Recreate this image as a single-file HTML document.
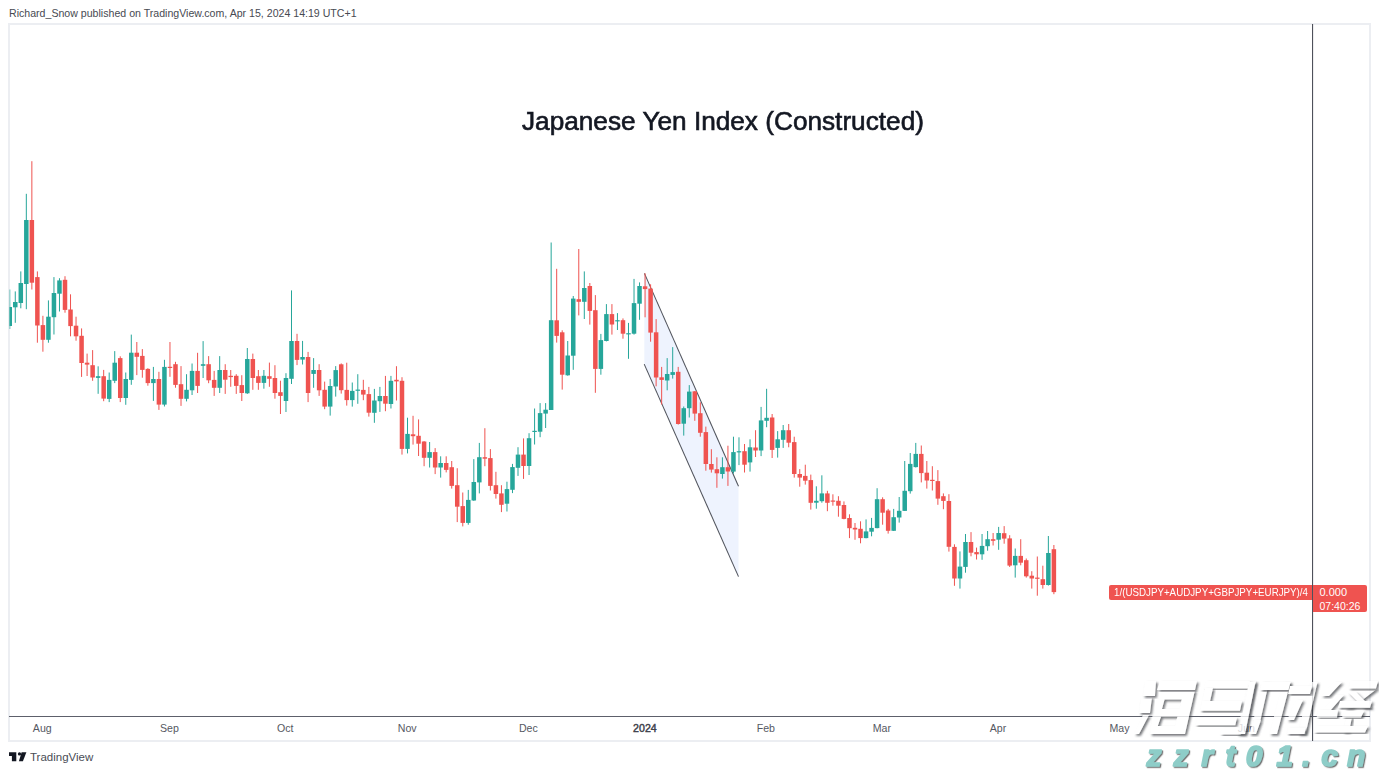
<!DOCTYPE html>
<html><head><meta charset="utf-8"><style>
html,body{margin:0;padding:0;background:#fff;}
body{width:1379px;height:773px;position:relative;overflow:hidden;font-family:"Liberation Sans",sans-serif;}
.top{position:absolute;left:9px;top:7px;font-size:10.6px;color:#474a52;white-space:nowrap;}
.frame{position:absolute;left:8px;top:23px;width:1359px;height:715px;border:2px solid #eceef2;}
svg{position:absolute;left:0;top:0;}
.title{position:absolute;left:522px;top:106.8px;font-size:25.2px;color:#131722;white-space:nowrap;transform-origin:0 0;transform:scaleX(1.04);-webkit-text-stroke:0.6px #131722;}
.tl{position:absolute;top:722px;width:60px;text-align:center;font-size:10.6px;color:#555862;}
.tl.b{color:#3e414b;-webkit-text-stroke:0.45px #3e414b;}
.lbl{position:absolute;left:1108.5px;top:584.5px;width:203px;height:15px;background:#ef5350;border-radius:2px 0 0 2px;}
.lbl span{position:absolute;left:5px;top:1.5px;font-size:10.5px;color:#fff;white-space:nowrap;transform-origin:0 0;transform:scaleX(0.93);}
.tag{position:absolute;left:1312.5px;top:584.5px;width:54px;height:27.5px;background:#ef5350;border-radius:0 2px 2px 0;}
.tag .p{position:absolute;left:7px;top:1.5px;font-size:11px;color:#fff;}
.tag .t{position:absolute;left:7px;top:15px;font-size:10.5px;color:#fff;}
.logo{position:absolute;left:9.2px;top:751.8px;}
.tv{position:absolute;left:30px;top:751px;font-size:11.5px;color:#4a4d56;}
</style></head><body>
<div class="top">Richard_Snow published on TradingView.com, Apr 15, 2024 14:19 UTC+1</div>
<div class="frame"></div>
<svg width="1379" height="773" viewBox="0 0 1379 773">
<defs><clipPath id="clip"><rect x="9.5" y="24" width="1302" height="692"/></clipPath></defs>
<polygon points="644.3,273.4 738.5,486.2 738.5,576.6 644.3,364.1" fill="#eef3fe"/>
<line x1="644.4" y1="273.4" x2="738.5" y2="486.2" stroke="#50535c" stroke-width="1.05"/>
<line x1="644.2" y1="364.1" x2="738.5" y2="576.6" stroke="#50535c" stroke-width="1.05"/>
<g clip-path="url(#clip)"><rect x="9.25" y="289.5" width="1" height="39.5" fill="#26a69a"/><rect x="14.77" y="291.4" width="1" height="31.4" fill="#26a69a"/><rect x="20.30" y="271.4" width="1" height="36.9" fill="#26a69a"/><rect x="25.82" y="193.8" width="1" height="115.4" fill="#26a69a"/><rect x="31.35" y="161.2" width="1" height="128.3" fill="#ef5350"/><rect x="36.87" y="271.4" width="1" height="71.3" fill="#ef5350"/><rect x="42.40" y="315.8" width="1" height="35.9" fill="#ef5350"/><rect x="47.92" y="300.4" width="1" height="42.3" fill="#26a69a"/><rect x="53.45" y="277.1" width="1" height="57.4" fill="#26a69a"/><rect x="58.97" y="278.2" width="1" height="33.3" fill="#26a69a"/><rect x="64.50" y="276.2" width="1" height="36.5" fill="#ef5350"/><rect x="70.02" y="294.3" width="1" height="42.0" fill="#ef5350"/><rect x="75.54" y="316.7" width="1" height="24.0" fill="#ef5350"/><rect x="81.07" y="328.4" width="1" height="48.5" fill="#ef5350"/><rect x="86.59" y="353.6" width="1" height="22.4" fill="#ef5350"/><rect x="92.12" y="350.1" width="1" height="30.7" fill="#ef5350"/><rect x="97.64" y="366.3" width="1" height="27.5" fill="#26a69a"/><rect x="103.17" y="369.9" width="1" height="31.3" fill="#ef5350"/><rect x="108.69" y="372.5" width="1" height="29.6" fill="#26a69a"/><rect x="114.22" y="351.1" width="1" height="32.0" fill="#26a69a"/><rect x="119.74" y="356.3" width="1" height="45.8" fill="#ef5350"/><rect x="125.26" y="372.5" width="1" height="32.3" fill="#26a69a"/><rect x="130.79" y="334.6" width="1" height="50.2" fill="#26a69a"/><rect x="136.31" y="342.0" width="1" height="33.1" fill="#ef5350"/><rect x="141.84" y="349.1" width="1" height="28.6" fill="#ef5350"/><rect x="147.36" y="368.2" width="1" height="17.5" fill="#ef5350"/><rect x="152.89" y="366.9" width="1" height="34.0" fill="#26a69a"/><rect x="158.41" y="371.8" width="1" height="38.1" fill="#ef5350"/><rect x="163.94" y="359.8" width="1" height="46.7" fill="#26a69a"/><rect x="169.46" y="342.0" width="1" height="34.8" fill="#ef5350"/><rect x="174.98" y="361.8" width="1" height="25.9" fill="#ef5350"/><rect x="180.51" y="366.1" width="1" height="39.8" fill="#ef5350"/><rect x="186.03" y="374.2" width="1" height="27.2" fill="#26a69a"/><rect x="191.56" y="363.5" width="1" height="31.5" fill="#26a69a"/><rect x="197.08" y="352.8" width="1" height="40.2" fill="#ef5350"/><rect x="202.61" y="341.1" width="1" height="36.9" fill="#26a69a"/><rect x="208.13" y="356.1" width="1" height="27.1" fill="#ef5350"/><rect x="213.66" y="370.9" width="1" height="25.0" fill="#ef5350"/><rect x="219.18" y="356.1" width="1" height="36.9" fill="#26a69a"/><rect x="224.71" y="364.2" width="1" height="29.7" fill="#ef5350"/><rect x="230.23" y="370.0" width="1" height="16.8" fill="#ef5350"/><rect x="235.75" y="374.2" width="1" height="19.7" fill="#ef5350"/><rect x="241.28" y="375.2" width="1" height="25.8" fill="#ef5350"/><rect x="246.80" y="348.0" width="1" height="45.9" fill="#26a69a"/><rect x="252.33" y="353.6" width="1" height="36.2" fill="#ef5350"/><rect x="257.85" y="370.0" width="1" height="19.8" fill="#ef5350"/><rect x="263.38" y="370.0" width="1" height="18.7" fill="#26a69a"/><rect x="268.90" y="362.6" width="1" height="24.2" fill="#ef5350"/><rect x="274.43" y="365.2" width="1" height="33.5" fill="#ef5350"/><rect x="279.95" y="380.7" width="1" height="33.3" fill="#ef5350"/><rect x="285.47" y="373.2" width="1" height="38.8" fill="#26a69a"/><rect x="291.00" y="290.4" width="1" height="93.6" fill="#26a69a"/><rect x="296.52" y="333.8" width="1" height="31.3" fill="#ef5350"/><rect x="302.05" y="340.9" width="1" height="23.6" fill="#26a69a"/><rect x="307.57" y="351.9" width="1" height="50.2" fill="#ef5350"/><rect x="313.10" y="358.1" width="1" height="29.7" fill="#26a69a"/><rect x="318.62" y="364.2" width="1" height="31.7" fill="#ef5350"/><rect x="324.15" y="381.6" width="1" height="27.6" fill="#ef5350"/><rect x="329.67" y="379.0" width="1" height="36.6" fill="#26a69a"/><rect x="335.20" y="366.1" width="1" height="30.5" fill="#26a69a"/><rect x="340.72" y="363.4" width="1" height="30.2" fill="#ef5350"/><rect x="346.24" y="362.7" width="1" height="42.9" fill="#ef5350"/><rect x="351.77" y="382.5" width="1" height="24.1" fill="#26a69a"/><rect x="357.29" y="374.2" width="1" height="29.6" fill="#26a69a"/><rect x="362.82" y="379.8" width="1" height="20.4" fill="#ef5350"/><rect x="368.34" y="386.9" width="1" height="29.7" fill="#ef5350"/><rect x="373.87" y="388.9" width="1" height="33.9" fill="#26a69a"/><rect x="379.39" y="386.9" width="1" height="25.0" fill="#26a69a"/><rect x="384.92" y="375.9" width="1" height="35.3" fill="#ef5350"/><rect x="390.44" y="375.9" width="1" height="32.6" fill="#26a69a"/><rect x="395.96" y="366.2" width="1" height="34.3" fill="#ef5350"/><rect x="401.49" y="377.2" width="1" height="77.4" fill="#ef5350"/><rect x="407.01" y="417.7" width="1" height="35.7" fill="#26a69a"/><rect x="412.54" y="415.8" width="1" height="28.8" fill="#ef5350"/><rect x="418.06" y="419.4" width="1" height="36.6" fill="#ef5350"/><rect x="423.59" y="441.1" width="1" height="25.1" fill="#ef5350"/><rect x="429.11" y="442.0" width="1" height="25.5" fill="#26a69a"/><rect x="434.64" y="448.1" width="1" height="26.0" fill="#ef5350"/><rect x="440.16" y="456.3" width="1" height="21.3" fill="#26a69a"/><rect x="445.69" y="456.3" width="1" height="16.1" fill="#ef5350"/><rect x="451.21" y="461.0" width="1" height="27.6" fill="#ef5350"/><rect x="456.73" y="468.2" width="1" height="53.9" fill="#ef5350"/><rect x="462.26" y="492.5" width="1" height="33.9" fill="#ef5350"/><rect x="467.78" y="489.9" width="1" height="34.8" fill="#26a69a"/><rect x="473.31" y="459.1" width="1" height="41.8" fill="#26a69a"/><rect x="478.83" y="442.9" width="1" height="50.5" fill="#26a69a"/><rect x="484.36" y="428.2" width="1" height="38.0" fill="#ef5350"/><rect x="489.88" y="449.1" width="1" height="41.4" fill="#ef5350"/><rect x="495.41" y="471.8" width="1" height="26.8" fill="#ef5350"/><rect x="500.93" y="485.2" width="1" height="26.9" fill="#ef5350"/><rect x="506.45" y="481.7" width="1" height="29.8" fill="#26a69a"/><rect x="511.98" y="463.9" width="1" height="29.2" fill="#26a69a"/><rect x="517.50" y="447.2" width="1" height="28.7" fill="#26a69a"/><rect x="523.03" y="438.4" width="1" height="40.5" fill="#ef5350"/><rect x="528.55" y="433.2" width="1" height="41.8" fill="#26a69a"/><rect x="534.08" y="408.5" width="1" height="36.0" fill="#26a69a"/><rect x="539.60" y="403.1" width="1" height="34.1" fill="#26a69a"/><rect x="545.13" y="403.1" width="1" height="24.9" fill="#26a69a"/><rect x="550.65" y="242.5" width="1" height="167.5" fill="#26a69a"/><rect x="556.18" y="268.8" width="1" height="73.8" fill="#ef5350"/><rect x="561.70" y="330.3" width="1" height="59.3" fill="#ef5350"/><rect x="567.22" y="341.0" width="1" height="34.7" fill="#26a69a"/><rect x="572.75" y="296.0" width="1" height="73.8" fill="#26a69a"/><rect x="578.27" y="249.0" width="1" height="66.4" fill="#ef5350"/><rect x="583.80" y="271.4" width="1" height="47.6" fill="#26a69a"/><rect x="589.32" y="283.0" width="1" height="41.6" fill="#ef5350"/><rect x="594.85" y="295.1" width="1" height="97.7" fill="#ef5350"/><rect x="600.37" y="333.9" width="1" height="40.8" fill="#26a69a"/><rect x="605.90" y="304.1" width="1" height="37.3" fill="#26a69a"/><rect x="611.42" y="304.1" width="1" height="30.5" fill="#ef5350"/><rect x="616.94" y="313.1" width="1" height="16.9" fill="#26a69a"/><rect x="622.47" y="318.4" width="1" height="20.3" fill="#ef5350"/><rect x="627.99" y="322.9" width="1" height="35.9" fill="#26a69a"/><rect x="633.52" y="278.9" width="1" height="55.7" fill="#26a69a"/><rect x="639.04" y="282.4" width="1" height="37.4" fill="#26a69a"/><rect x="644.57" y="273.3" width="1" height="44.0" fill="#ef5350"/><rect x="650.09" y="284.3" width="1" height="57.4" fill="#ef5350"/><rect x="655.62" y="319.1" width="1" height="67.2" fill="#ef5350"/><rect x="661.14" y="366.9" width="1" height="37.6" fill="#ef5350"/><rect x="666.67" y="358.1" width="1" height="32.2" fill="#26a69a"/><rect x="672.19" y="347.1" width="1" height="31.5" fill="#26a69a"/><rect x="677.71" y="366.9" width="1" height="57.7" fill="#ef5350"/><rect x="683.24" y="406.5" width="1" height="29.1" fill="#26a69a"/><rect x="688.76" y="385.1" width="1" height="32.4" fill="#26a69a"/><rect x="694.29" y="391.0" width="1" height="29.8" fill="#ef5350"/><rect x="699.81" y="402.3" width="1" height="34.4" fill="#ef5350"/><rect x="705.34" y="426.6" width="1" height="44.1" fill="#ef5350"/><rect x="710.86" y="449.2" width="1" height="23.4" fill="#ef5350"/><rect x="716.39" y="457.3" width="1" height="30.5" fill="#ef5350"/><rect x="721.91" y="457.3" width="1" height="21.3" fill="#26a69a"/><rect x="727.43" y="445.7" width="1" height="40.2" fill="#ef5350"/><rect x="732.96" y="436.7" width="1" height="36.8" fill="#26a69a"/><rect x="738.48" y="437.3" width="1" height="27.8" fill="#26a69a"/><rect x="744.01" y="444.0" width="1" height="28.5" fill="#ef5350"/><rect x="749.53" y="439.3" width="1" height="32.3" fill="#26a69a"/><rect x="755.06" y="430.2" width="1" height="26.8" fill="#ef5350"/><rect x="760.58" y="406.9" width="1" height="49.2" fill="#26a69a"/><rect x="766.11" y="388.8" width="1" height="38.4" fill="#26a69a"/><rect x="771.63" y="414.0" width="1" height="44.0" fill="#ef5350"/><rect x="777.16" y="431.1" width="1" height="26.5" fill="#26a69a"/><rect x="782.68" y="425.0" width="1" height="22.9" fill="#26a69a"/><rect x="788.20" y="424.0" width="1" height="23.3" fill="#ef5350"/><rect x="793.73" y="436.7" width="1" height="40.9" fill="#ef5350"/><rect x="799.25" y="469.1" width="1" height="17.6" fill="#ef5350"/><rect x="804.78" y="464.7" width="1" height="19.9" fill="#ef5350"/><rect x="810.30" y="474.6" width="1" height="35.0" fill="#ef5350"/><rect x="815.83" y="486.3" width="1" height="22.4" fill="#26a69a"/><rect x="821.35" y="475.3" width="1" height="27.4" fill="#26a69a"/><rect x="826.88" y="490.8" width="1" height="20.4" fill="#ef5350"/><rect x="832.40" y="494.3" width="1" height="11.4" fill="#ef5350"/><rect x="837.92" y="496.2" width="1" height="20.5" fill="#ef5350"/><rect x="843.45" y="501.4" width="1" height="17.9" fill="#ef5350"/><rect x="848.97" y="514.3" width="1" height="23.8" fill="#ef5350"/><rect x="854.50" y="523.0" width="1" height="16.8" fill="#ef5350"/><rect x="860.02" y="521.3" width="1" height="22.0" fill="#ef5350"/><rect x="865.55" y="519.4" width="1" height="18.9" fill="#26a69a"/><rect x="871.07" y="517.9" width="1" height="18.4" fill="#26a69a"/><rect x="876.60" y="488.2" width="1" height="40.1" fill="#26a69a"/><rect x="882.12" y="497.3" width="1" height="27.4" fill="#ef5350"/><rect x="887.65" y="508.9" width="1" height="24.7" fill="#ef5350"/><rect x="893.17" y="508.9" width="1" height="22.1" fill="#26a69a"/><rect x="898.69" y="497.0" width="1" height="25.6" fill="#26a69a"/><rect x="904.22" y="461.0" width="1" height="50.0" fill="#26a69a"/><rect x="909.74" y="453.0" width="1" height="40.6" fill="#26a69a"/><rect x="915.27" y="442.9" width="1" height="24.6" fill="#26a69a"/><rect x="920.79" y="445.5" width="1" height="36.9" fill="#ef5350"/><rect x="926.32" y="461.0" width="1" height="27.6" fill="#ef5350"/><rect x="931.84" y="466.2" width="1" height="24.3" fill="#ef5350"/><rect x="937.37" y="470.1" width="1" height="34.7" fill="#ef5350"/><rect x="942.89" y="493.4" width="1" height="15.8" fill="#ef5350"/><rect x="948.41" y="494.2" width="1" height="57.4" fill="#ef5350"/><rect x="953.94" y="544.3" width="1" height="41.5" fill="#ef5350"/><rect x="959.46" y="551.4" width="1" height="37.2" fill="#26a69a"/><rect x="964.99" y="534.0" width="1" height="38.7" fill="#26a69a"/><rect x="970.51" y="532.1" width="1" height="24.2" fill="#ef5350"/><rect x="976.04" y="547.6" width="1" height="11.9" fill="#ef5350"/><rect x="981.56" y="534.0" width="1" height="25.8" fill="#26a69a"/><rect x="987.09" y="531.0" width="1" height="19.7" fill="#26a69a"/><rect x="992.61" y="533.0" width="1" height="12.5" fill="#ef5350"/><rect x="998.14" y="526.9" width="1" height="22.9" fill="#26a69a"/><rect x="1003.66" y="526.1" width="1" height="17.6" fill="#ef5350"/><rect x="1009.18" y="535.2" width="1" height="31.8" fill="#ef5350"/><rect x="1014.71" y="548.5" width="1" height="29.1" fill="#26a69a"/><rect x="1020.23" y="539.2" width="1" height="26.1" fill="#ef5350"/><rect x="1025.76" y="558.5" width="1" height="19.1" fill="#ef5350"/><rect x="1031.28" y="571.2" width="1" height="17.4" fill="#ef5350"/><rect x="1036.81" y="556.5" width="1" height="39.2" fill="#ef5350"/><rect x="1042.33" y="565.7" width="1" height="22.9" fill="#ef5350"/><rect x="1047.86" y="536.0" width="1" height="49.6" fill="#26a69a"/><rect x="1053.38" y="545.0" width="1" height="49.2" fill="#ef5350"/><rect x="7.50" y="307.0" width="4.5" height="19.0" fill="#26a69a"/><rect x="13.02" y="302.0" width="4.5" height="5.3" fill="#26a69a"/><rect x="18.55" y="283.0" width="4.5" height="20.0" fill="#26a69a"/><rect x="24.07" y="220.0" width="4.5" height="64.0" fill="#26a69a"/><rect x="29.60" y="220.0" width="4.5" height="62.7" fill="#ef5350"/><rect x="35.12" y="277.1" width="4.5" height="48.4" fill="#ef5350"/><rect x="40.65" y="325.1" width="4.5" height="14.7" fill="#ef5350"/><rect x="46.17" y="316.7" width="4.5" height="23.1" fill="#26a69a"/><rect x="51.70" y="293.0" width="4.5" height="24.2" fill="#26a69a"/><rect x="57.22" y="280.4" width="4.5" height="13.3" fill="#26a69a"/><rect x="62.75" y="279.8" width="4.5" height="30.1" fill="#ef5350"/><rect x="68.27" y="309.5" width="4.5" height="16.6" fill="#ef5350"/><rect x="73.79" y="325.7" width="4.5" height="10.6" fill="#ef5350"/><rect x="79.32" y="335.8" width="4.5" height="27.2" fill="#ef5350"/><rect x="84.84" y="362.7" width="4.5" height="1.9" fill="#ef5350"/><rect x="90.37" y="365.2" width="4.5" height="12.3" fill="#ef5350"/><rect x="95.89" y="376.2" width="4.5" height="1.7" fill="#26a69a"/><rect x="101.42" y="376.2" width="4.5" height="22.4" fill="#ef5350"/><rect x="106.94" y="379.9" width="4.5" height="19.0" fill="#26a69a"/><rect x="112.47" y="362.7" width="4.5" height="18.1" fill="#26a69a"/><rect x="117.99" y="358.1" width="4.5" height="39.9" fill="#ef5350"/><rect x="123.51" y="379.0" width="4.5" height="19.0" fill="#26a69a"/><rect x="129.04" y="352.7" width="4.5" height="27.2" fill="#26a69a"/><rect x="134.56" y="352.7" width="4.5" height="4.1" fill="#ef5350"/><rect x="140.09" y="355.9" width="4.5" height="14.0" fill="#ef5350"/><rect x="145.61" y="368.9" width="4.5" height="14.2" fill="#ef5350"/><rect x="151.14" y="379.0" width="4.5" height="4.1" fill="#26a69a"/><rect x="156.66" y="379.0" width="4.5" height="25.6" fill="#ef5350"/><rect x="162.19" y="366.9" width="4.5" height="37.7" fill="#26a69a"/><rect x="167.71" y="366.8" width="4.5" height="1.2" fill="#ef5350"/><rect x="173.23" y="364.2" width="4.5" height="20.7" fill="#ef5350"/><rect x="178.76" y="384.2" width="4.5" height="14.6" fill="#ef5350"/><rect x="184.28" y="389.8" width="4.5" height="9.0" fill="#26a69a"/><rect x="189.81" y="370.9" width="4.5" height="19.4" fill="#26a69a"/><rect x="195.33" y="370.9" width="4.5" height="15.0" fill="#ef5350"/><rect x="200.86" y="364.2" width="4.5" height="1.6" fill="#26a69a"/><rect x="206.38" y="364.2" width="4.5" height="16.1" fill="#ef5350"/><rect x="211.91" y="379.9" width="4.5" height="7.9" fill="#ef5350"/><rect x="217.43" y="370.0" width="4.5" height="17.8" fill="#26a69a"/><rect x="222.96" y="370.0" width="4.5" height="9.7" fill="#ef5350"/><rect x="228.48" y="375.8" width="4.5" height="1.3" fill="#ef5350"/><rect x="234.00" y="375.8" width="4.5" height="10.1" fill="#ef5350"/><rect x="239.53" y="385.1" width="4.5" height="7.9" fill="#ef5350"/><rect x="245.05" y="359.0" width="4.5" height="34.3" fill="#26a69a"/><rect x="250.58" y="359.0" width="4.5" height="19.0" fill="#ef5350"/><rect x="256.10" y="376.2" width="4.5" height="6.7" fill="#ef5350"/><rect x="261.63" y="375.8" width="4.5" height="7.1" fill="#26a69a"/><rect x="267.15" y="376.2" width="4.5" height="2.6" fill="#ef5350"/><rect x="272.68" y="378.0" width="4.5" height="15.0" fill="#ef5350"/><rect x="278.20" y="392.2" width="4.5" height="3.7" fill="#ef5350"/><rect x="283.72" y="378.0" width="4.5" height="23.0" fill="#26a69a"/><rect x="289.25" y="341.0" width="4.5" height="37.8" fill="#26a69a"/><rect x="294.77" y="341.0" width="4.5" height="18.9" fill="#ef5350"/><rect x="300.30" y="357.0" width="4.5" height="2.6" fill="#26a69a"/><rect x="305.82" y="357.0" width="4.5" height="36.0" fill="#ef5350"/><rect x="311.35" y="370.0" width="4.5" height="3.9" fill="#26a69a"/><rect x="316.87" y="370.0" width="4.5" height="20.3" fill="#ef5350"/><rect x="322.40" y="389.8" width="4.5" height="16.8" fill="#ef5350"/><rect x="327.92" y="386.0" width="4.5" height="20.6" fill="#26a69a"/><rect x="333.45" y="370.1" width="4.5" height="16.4" fill="#26a69a"/><rect x="338.97" y="364.3" width="4.5" height="25.9" fill="#ef5350"/><rect x="344.49" y="389.9" width="4.5" height="10.2" fill="#ef5350"/><rect x="350.02" y="390.9" width="4.5" height="9.2" fill="#26a69a"/><rect x="355.54" y="389.6" width="4.5" height="1.2" fill="#26a69a"/><rect x="361.07" y="389.9" width="4.5" height="4.7" fill="#ef5350"/><rect x="366.59" y="394.1" width="4.5" height="18.6" fill="#ef5350"/><rect x="372.12" y="400.5" width="4.5" height="12.3" fill="#26a69a"/><rect x="377.64" y="396.0" width="4.5" height="5.2" fill="#26a69a"/><rect x="383.17" y="396.0" width="4.5" height="7.7" fill="#ef5350"/><rect x="388.69" y="380.8" width="4.5" height="23.2" fill="#26a69a"/><rect x="394.21" y="379.8" width="4.5" height="1.6" fill="#ef5350"/><rect x="399.74" y="380.8" width="4.5" height="68.1" fill="#ef5350"/><rect x="405.26" y="433.9" width="4.5" height="15.0" fill="#26a69a"/><rect x="410.79" y="434.3" width="4.5" height="1.9" fill="#ef5350"/><rect x="416.31" y="435.8" width="4.5" height="7.9" fill="#ef5350"/><rect x="421.84" y="441.5" width="4.5" height="16.3" fill="#ef5350"/><rect x="427.36" y="452.1" width="4.5" height="5.7" fill="#26a69a"/><rect x="432.89" y="452.1" width="4.5" height="15.4" fill="#ef5350"/><rect x="438.41" y="463.0" width="4.5" height="4.5" fill="#26a69a"/><rect x="443.94" y="463.0" width="4.5" height="6.9" fill="#ef5350"/><rect x="449.46" y="467.2" width="4.5" height="18.7" fill="#ef5350"/><rect x="454.98" y="485.2" width="4.5" height="21.5" fill="#ef5350"/><rect x="460.51" y="506.1" width="4.5" height="16.8" fill="#ef5350"/><rect x="466.03" y="499.9" width="4.5" height="23.0" fill="#26a69a"/><rect x="471.56" y="482.0" width="4.5" height="18.5" fill="#26a69a"/><rect x="477.08" y="457.2" width="4.5" height="25.2" fill="#26a69a"/><rect x="482.61" y="457.2" width="4.5" height="1.5" fill="#ef5350"/><rect x="488.13" y="458.1" width="4.5" height="27.8" fill="#ef5350"/><rect x="493.66" y="485.2" width="4.5" height="8.8" fill="#ef5350"/><rect x="499.18" y="493.4" width="4.5" height="11.4" fill="#ef5350"/><rect x="504.70" y="489.1" width="4.5" height="14.6" fill="#26a69a"/><rect x="510.23" y="467.1" width="4.5" height="22.7" fill="#26a69a"/><rect x="515.75" y="454.6" width="4.5" height="13.2" fill="#26a69a"/><rect x="521.28" y="454.6" width="4.5" height="11.4" fill="#ef5350"/><rect x="526.80" y="438.2" width="4.5" height="27.8" fill="#26a69a"/><rect x="532.33" y="430.8" width="4.5" height="1.2" fill="#26a69a"/><rect x="537.85" y="413.1" width="4.5" height="18.6" fill="#26a69a"/><rect x="543.38" y="409.7" width="4.5" height="3.9" fill="#26a69a"/><rect x="548.90" y="320.2" width="4.5" height="89.8" fill="#26a69a"/><rect x="554.43" y="320.3" width="4.5" height="15.6" fill="#ef5350"/><rect x="559.95" y="332.3" width="4.5" height="42.4" fill="#ef5350"/><rect x="565.47" y="355.5" width="4.5" height="19.8" fill="#26a69a"/><rect x="571.00" y="298.6" width="4.5" height="57.1" fill="#26a69a"/><rect x="576.52" y="299.2" width="4.5" height="2.6" fill="#ef5350"/><rect x="582.05" y="288.0" width="4.5" height="13.8" fill="#26a69a"/><rect x="587.57" y="286.0" width="4.5" height="24.9" fill="#ef5350"/><rect x="593.10" y="310.2" width="4.5" height="58.7" fill="#ef5350"/><rect x="598.62" y="340.1" width="4.5" height="28.8" fill="#26a69a"/><rect x="604.15" y="314.1" width="4.5" height="26.9" fill="#26a69a"/><rect x="609.67" y="314.1" width="4.5" height="10.4" fill="#ef5350"/><rect x="615.19" y="320.2" width="4.5" height="1.2" fill="#26a69a"/><rect x="620.72" y="320.2" width="4.5" height="13.5" fill="#ef5350"/><rect x="626.24" y="333.2" width="4.5" height="1.2" fill="#26a69a"/><rect x="631.77" y="303.1" width="4.5" height="30.6" fill="#26a69a"/><rect x="637.29" y="286.0" width="4.5" height="17.7" fill="#26a69a"/><rect x="642.82" y="286.3" width="4.5" height="2.8" fill="#ef5350"/><rect x="648.34" y="288.6" width="4.5" height="44.0" fill="#ef5350"/><rect x="653.87" y="332.3" width="4.5" height="45.2" fill="#ef5350"/><rect x="659.39" y="377.3" width="4.5" height="2.6" fill="#ef5350"/><rect x="664.92" y="374.0" width="4.5" height="6.5" fill="#26a69a"/><rect x="670.44" y="372.1" width="4.5" height="2.8" fill="#26a69a"/><rect x="675.96" y="371.8" width="4.5" height="52.2" fill="#ef5350"/><rect x="681.49" y="408.2" width="4.5" height="15.5" fill="#26a69a"/><rect x="687.01" y="391.6" width="4.5" height="16.6" fill="#26a69a"/><rect x="692.54" y="391.3" width="4.5" height="22.3" fill="#ef5350"/><rect x="698.06" y="413.2" width="4.5" height="19.6" fill="#ef5350"/><rect x="703.59" y="432.1" width="4.5" height="31.9" fill="#ef5350"/><rect x="709.11" y="464.0" width="4.5" height="5.6" fill="#ef5350"/><rect x="714.64" y="469.2" width="4.5" height="4.1" fill="#ef5350"/><rect x="720.16" y="467.2" width="4.5" height="6.8" fill="#26a69a"/><rect x="725.68" y="467.2" width="4.5" height="4.3" fill="#ef5350"/><rect x="731.21" y="452.1" width="4.5" height="19.5" fill="#26a69a"/><rect x="736.73" y="451.2" width="4.5" height="1.2" fill="#26a69a"/><rect x="742.26" y="451.2" width="4.5" height="13.5" fill="#ef5350"/><rect x="747.78" y="447.3" width="4.5" height="15.1" fill="#26a69a"/><rect x="753.31" y="447.5" width="4.5" height="3.0" fill="#ef5350"/><rect x="758.83" y="420.4" width="4.5" height="30.1" fill="#26a69a"/><rect x="764.36" y="417.8" width="4.5" height="3.0" fill="#26a69a"/><rect x="769.88" y="417.5" width="4.5" height="32.4" fill="#ef5350"/><rect x="775.41" y="439.3" width="4.5" height="8.6" fill="#26a69a"/><rect x="780.93" y="430.2" width="4.5" height="9.6" fill="#26a69a"/><rect x="786.45" y="430.2" width="4.5" height="12.5" fill="#ef5350"/><rect x="791.98" y="442.1" width="4.5" height="31.9" fill="#ef5350"/><rect x="797.50" y="474.0" width="4.5" height="3.6" fill="#ef5350"/><rect x="803.03" y="475.9" width="4.5" height="4.8" fill="#ef5350"/><rect x="808.55" y="480.1" width="4.5" height="22.7" fill="#ef5350"/><rect x="814.08" y="500.8" width="4.5" height="1.9" fill="#26a69a"/><rect x="819.60" y="493.4" width="4.5" height="7.8" fill="#26a69a"/><rect x="825.13" y="493.4" width="4.5" height="9.4" fill="#ef5350"/><rect x="830.65" y="500.5" width="4.5" height="1.2" fill="#ef5350"/><rect x="836.17" y="500.8" width="4.5" height="4.9" fill="#ef5350"/><rect x="841.70" y="505.0" width="4.5" height="13.9" fill="#ef5350"/><rect x="847.22" y="518.0" width="4.5" height="10.2" fill="#ef5350"/><rect x="852.75" y="527.8" width="4.5" height="1.7" fill="#ef5350"/><rect x="858.27" y="528.8" width="4.5" height="9.3" fill="#ef5350"/><rect x="863.80" y="531.4" width="4.5" height="6.7" fill="#26a69a"/><rect x="869.32" y="527.9" width="4.5" height="3.8" fill="#26a69a"/><rect x="874.85" y="499.2" width="4.5" height="28.9" fill="#26a69a"/><rect x="880.37" y="499.2" width="4.5" height="13.5" fill="#ef5350"/><rect x="885.90" y="510.5" width="4.5" height="20.3" fill="#ef5350"/><rect x="891.42" y="517.2" width="4.5" height="13.6" fill="#26a69a"/><rect x="896.94" y="510.8" width="4.5" height="6.7" fill="#26a69a"/><rect x="902.47" y="490.8" width="4.5" height="20.1" fill="#26a69a"/><rect x="907.99" y="463.9" width="4.5" height="27.3" fill="#26a69a"/><rect x="913.52" y="453.9" width="4.5" height="13.2" fill="#26a69a"/><rect x="919.04" y="453.9" width="4.5" height="19.2" fill="#ef5350"/><rect x="924.57" y="472.7" width="4.5" height="7.8" fill="#ef5350"/><rect x="930.09" y="479.8" width="4.5" height="1.2" fill="#ef5350"/><rect x="935.62" y="481.1" width="4.5" height="17.5" fill="#ef5350"/><rect x="941.14" y="496.2" width="4.5" height="4.7" fill="#ef5350"/><rect x="946.66" y="501.0" width="4.5" height="45.8" fill="#ef5350"/><rect x="952.19" y="546.9" width="4.5" height="31.6" fill="#ef5350"/><rect x="957.71" y="566.6" width="4.5" height="11.9" fill="#26a69a"/><rect x="963.24" y="542.0" width="4.5" height="24.9" fill="#26a69a"/><rect x="968.76" y="542.0" width="4.5" height="10.7" fill="#ef5350"/><rect x="974.29" y="552.1" width="4.5" height="2.2" fill="#ef5350"/><rect x="979.81" y="545.9" width="4.5" height="8.4" fill="#26a69a"/><rect x="985.34" y="539.2" width="4.5" height="7.0" fill="#26a69a"/><rect x="990.86" y="539.2" width="4.5" height="1.6" fill="#ef5350"/><rect x="996.39" y="533.0" width="4.5" height="6.7" fill="#26a69a"/><rect x="1001.91" y="533.2" width="4.5" height="5.4" fill="#ef5350"/><rect x="1007.43" y="538.4" width="4.5" height="27.2" fill="#ef5350"/><rect x="1012.96" y="555.9" width="4.5" height="9.4" fill="#26a69a"/><rect x="1018.48" y="555.9" width="4.5" height="6.8" fill="#ef5350"/><rect x="1024.01" y="560.2" width="4.5" height="16.1" fill="#ef5350"/><rect x="1029.53" y="575.7" width="4.5" height="2.8" fill="#ef5350"/><rect x="1035.06" y="577.6" width="4.5" height="1.2" fill="#ef5350"/><rect x="1040.58" y="579.2" width="4.5" height="5.8" fill="#ef5350"/><rect x="1046.11" y="553.0" width="4.5" height="32.0" fill="#26a69a"/><rect x="1051.63" y="549.2" width="4.5" height="42.9" fill="#ef5350"/></g>
<rect x="1312" y="24" width="1.1" height="717" fill="#4e515b"/>
<rect x="9" y="716" width="1361" height="1" fill="#5d606b"/>
</svg>
<div class="title">Japanese Yen Index (Constructed)</div>
<div class="tl" style="left:12.3px">Aug</div><div class="tl" style="left:139.4px">Sep</div><div class="tl" style="left:255.2px">Oct</div><div class="tl" style="left:377.2px">Nov</div><div class="tl" style="left:498.4px">Dec</div><div class="tl b" style="left:614.9px">2024</div><div class="tl" style="left:735.9px">Feb</div><div class="tl" style="left:851.9px">Mar</div><div class="tl" style="left:968.0px">Apr</div><div class="tl" style="left:1089.5px">May</div><div class="tl" style="left:1216.4px">Jun</div>
<div class="lbl"><span>1/(USDJPY+AUDJPY+GBPJPY+EURJPY)/4</span></div>
<div class="tag"><div class="p">0.000</div><div class="t">07:40:26</div></div>
<svg width="1379" height="773" viewBox="0 0 1379 773" style="position:absolute;left:0;top:0">
<defs><filter id="wsh" x="-10%" y="-10%" width="130%" height="130%"><feDropShadow dx="1.8" dy="1.8" stdDeviation="1.0" flood-color="#3e4047" flood-opacity="0.9"/></filter>
<filter id="tsh" x="-10%" y="-10%" width="130%" height="130%"><feDropShadow dx="1.2" dy="1.2" stdDeviation="0.6" flood-color="#555" flood-opacity="0.8"/></filter></defs>
<g fill="#ffffff" opacity="0.8"><path filter="url(#wsh)" fill-rule="evenodd" d="M1156,690 L1195,690 L1185,734 L1150,734 Z M1164.6,699.6 L1181.7,699.6 L1179.5,709 L1162,709 Z M1161,716.7 L1177.4,716.7 L1175,726 L1157.8,726 Z"/><polygon filter="url(#wsh)" points="1141,697 1152,697 1150,713 1139,713"/><polygon filter="url(#wsh)" points="1143,715 1149,715 1139,734 1134,734"/><polygon filter="url(#wsh)" points="1145,681 1156,681 1155,696 1143,696"/><polygon filter="url(#wsh)" points="1160,681 1197,681 1195,690 1157,690"/><polygon filter="url(#wsh)" points="1248,681 1256,681 1245,734 1237,734"/><polygon filter="url(#wsh)" points="1206,681 1250,681 1248,688.5 1204,688.5"/><polygon filter="url(#wsh)" points="1205,688 1213,688 1210,701.5 1202,701.5"/><polygon filter="url(#wsh)" points="1202,701 1242,701 1240,710.7 1200,710.7"/><polygon filter="url(#wsh)" points="1198,717.5 1237,717.5 1235.3,725.2 1195,725.2"/><polygon filter="url(#wsh)" points="1222,728 1243,728 1241,734.6 1220,734.6"/><polygon filter="url(#wsh)" points="1249,682 1255.5,682 1245,734 1238.5,734"/><polygon filter="url(#wsh)" points="1262,682 1269,682 1260.5,720 1253.5,720"/><polygon filter="url(#wsh)" points="1283,682 1290.5,682 1277,734 1269.5,734"/><polygon filter="url(#wsh)" points="1262,682 1290.5,682 1288.5,690 1260,690"/><polygon filter="url(#wsh)" points="1254,720 1261,720 1256,734 1249,734"/><polygon filter="url(#wsh)" points="1310,682 1317.5,682 1305.5,734 1298,734"/><polygon filter="url(#wsh)" points="1290,686 1312,686 1310,694 1288,694"/><polygon filter="url(#wsh)" points="1296,700 1303,700 1294,720 1287,720"/><polygon filter="url(#wsh)" points="1288,727.5 1306,727.5 1304.5,734 1287,734"/><polygon filter="url(#wsh)" points="1334,682 1342,682 1329,696 1321,696"/><polygon filter="url(#wsh)" points="1336,695 1344,695 1328,713.3 1320,713.3"/><polygon filter="url(#wsh)" points="1318,710 1338,710 1337,717.4 1316.6,717.4"/><polygon filter="url(#wsh)" points="1370,688 1378,688 1352,708 1344,708"/><polygon filter="url(#wsh)" points="1348,692 1356,692 1372,708 1364,708"/><polygon filter="url(#wsh)" points="1350,681 1378,681 1376,688.6 1348.9,688.6"/><polygon filter="url(#wsh)" points="1340,701 1372,701 1370,707.8 1338,707.8"/><polygon filter="url(#wsh)" points="1346,717 1352,717 1349,732 1343,732"/><polygon filter="url(#wsh)" points="1344,711 1364,711 1361,717.4 1342,717.4"/><polygon filter="url(#wsh)" points="1316,726 1368,726 1365,732.5 1313.6,732.5"/></g>
<g filter="url(#tsh)" font-family="Liberation Sans" font-weight="bold" font-style="italic" font-size="30" fill="#8ecdc8" stroke="#8ecdc8" stroke-width="1.6" stroke-linejoin="round" text-anchor="middle">
<text x="1154" y="766.3">z</text><text x="1181" y="766.3">z</text><text x="1207" y="766.3">r</text><text x="1230.6" y="766.3">t</text><text x="1254" y="766.3">0</text><text x="1284.5" y="766.3">1</text><text x="1306.2" y="766.3">.</text><text x="1329.6" y="766.3">c</text><text x="1356.2" y="766.3">n</text>
</g></svg>
<svg class="logo" width="18" height="10" viewBox="0 0 18 10"><path d="M0 0.3h7.3v9h-4.4v-5.4h-2.9z" fill="#131722"/><circle cx="10.5" cy="1.9" r="1.65" fill="#131722"/><path d="M12.6 0.3h4.8l-3.5 9h-4z" fill="#131722"/></svg>
<div class="tv">TradingView</div>
</body></html>
